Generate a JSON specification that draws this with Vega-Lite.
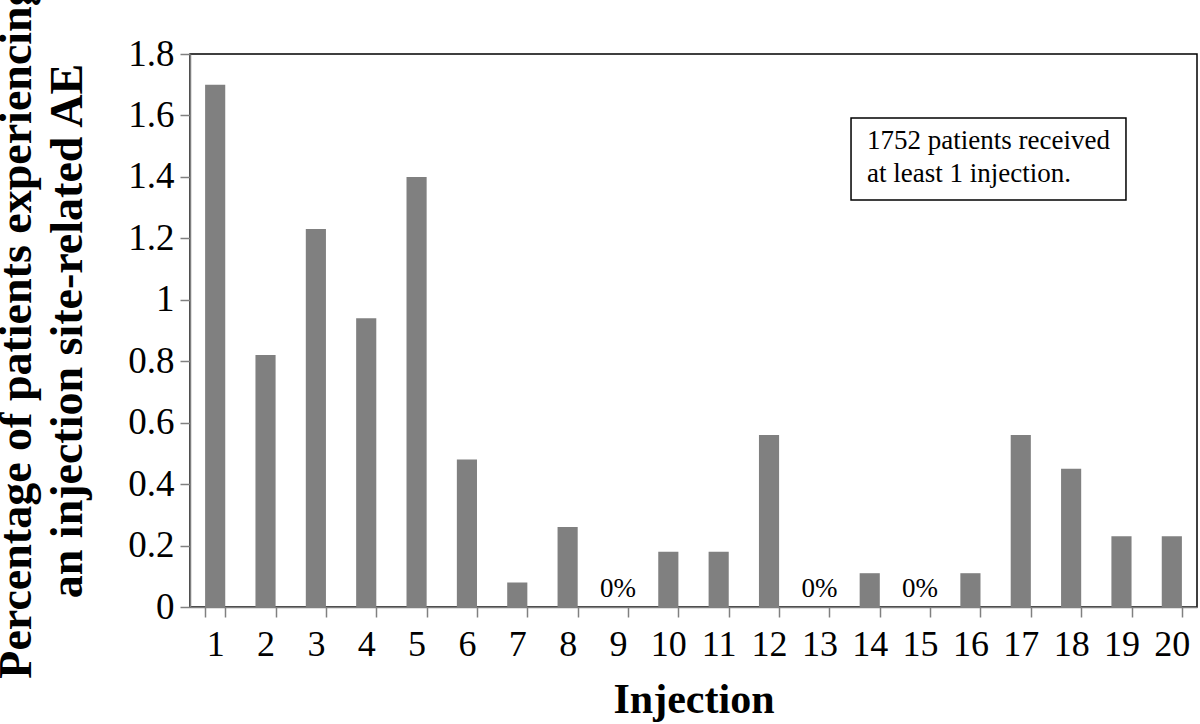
{
  "$schema": "https://vega.github.io/schema/vega-lite/v6.json",
  "width": 1007,
  "height": 553,
  "autosize": "none",
  "padding": {"left": 190, "top": 54, "right": 3, "bottom": 117},
  "background": "white",
  "config": {
    "font": "Liberation Serif",
    "view": {"stroke": "black", "strokeWidth": 1.5}
  },
  "data": {
    "values": [
      {"injection": "1", "pct": 1.70},
      {"injection": "2", "pct": 0.82},
      {"injection": "3", "pct": 1.23},
      {"injection": "4", "pct": 0.94},
      {"injection": "5", "pct": 1.40},
      {"injection": "6", "pct": 0.48},
      {"injection": "7", "pct": 0.08},
      {"injection": "8", "pct": 0.26},
      {"injection": "9", "pct": 0},
      {"injection": "10", "pct": 0.18},
      {"injection": "11", "pct": 0.18},
      {"injection": "12", "pct": 0.56},
      {"injection": "13", "pct": 0},
      {"injection": "14", "pct": 0.11},
      {"injection": "15", "pct": 0},
      {"injection": "16", "pct": 0.11},
      {"injection": "17", "pct": 0.56},
      {"injection": "18", "pct": 0.45},
      {"injection": "19", "pct": 0.23},
      {"injection": "20", "pct": 0.23}
    ]
  },
  "encoding": {
    "x": {
      "field": "injection",
      "type": "ordinal",
      "sort": null,
      "scale": {"paddingInner": 0.6, "paddingOuter": 0.3},
      "axis": {
        "title": "Injection",
        "titleFont": "Liberation Serif",
        "titleFontSize": 42,
        "titleFontWeight": "bold",
        "titleColor": "black",
        "titlePadding": 17,
        "labelAngle": 0,
        "labelFont": "Liberation Serif",
        "labelFontSize": 36,
        "labelColor": "black",
        "labelPadding": 10,
        "tickBand": "extent",
        "tickSize": 10,
        "tickColor": "#808080",
        "tickWidth": 1.5,
        "domainColor": "#808080",
        "domainWidth": 1.5
      }
    },
    "y": {
      "field": "pct",
      "type": "quantitative",
      "scale": {"domain": [0, 1.8], "nice": false},
      "axis": {
        "title": ["Percentage of patients experiencing", "an injection site-related AE"],
        "titleFont": "Liberation Serif",
        "titleFontSize": 46,
        "titleFontWeight": "bold",
        "titleColor": "black",
        "titleLineHeight": 51,
        "titlePadding": 36,
        "values": [0, 0.2, 0.4, 0.6, 0.8, 1, 1.2, 1.4, 1.6, 1.8],
        "format": ".1~f",
        "labelFont": "Liberation Serif",
        "labelFontSize": 37,
        "labelColor": "black",
        "labelPadding": 6,
        "tickSize": 10,
        "tickColor": "#808080",
        "tickWidth": 1.5,
        "domainColor": "#808080",
        "domainWidth": 1.5,
        "grid": false
      }
    }
  },
  "layer": [
    {"mark": {"type": "bar", "color": "#808080"}},
    {
      "transform": [{"filter": "datum.pct === 0"}],
      "mark": {"type": "text", "text": "0%", "font": "Liberation Serif", "fontSize": 27, "baseline": "alphabetic", "dy": -10, "color": "black"}
    },
    {
      "transform": [{"filter": "datum.injection === '14'"}],
      "mark": {"type": "rect", "fill": "white", "stroke": "black", "strokeWidth": 1.5, "xOffset": -18.7, "x2Offset": 4.5},
      "encoding": {
        "x": {"datum": "14", "type": "ordinal"},
        "x2": {"datum": "19"},
        "y": {"datum": 1.592, "type": "quantitative"},
        "y2": {"datum": 1.325}
      }
    },
    {
      "transform": [{"filter": "datum.injection === '14'"}],
      "mark": {"type": "text", "text": ["1752 patients received", "at least 1 injection."], "font": "Liberation Serif", "fontSize": 27, "lineHeight": 33, "align": "left", "baseline": "alphabetic", "dx": -2.7, "color": "black"},
      "encoding": {
        "x": {"datum": "14", "type": "ordinal"},
        "y": {"datum": 1.491, "type": "quantitative"}
      }
    }
  ]
}
